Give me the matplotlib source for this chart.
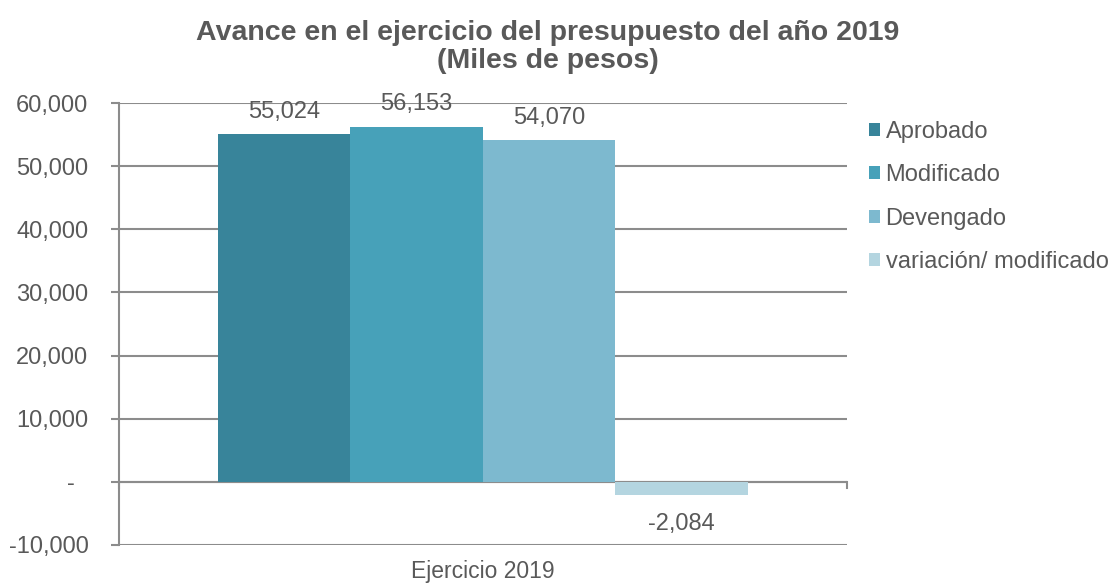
import numpy as np
import matplotlib
matplotlib.use("Agg")
from matplotlib import pyplot as plt
from matplotlib.patches import Patch

plt.rcParams['font.family'] = ['Liberation Sans', 'DejaVu Sans']

# Data ###################################################################
categoria = ["Ejercicio 2019"]
series = ["Aprobado", "Modificado", "Devengado", "variación/ modificado"]
valores = [55024, 56153, 54070, -2084]
colores = ["#38849A", "#47A1B9", "#7DB9CF", "#B4D5E0"]
yticks = [-10000, 0, 10000, 20000, 30000, 40000, 50000, 60000]

gris = "#595959"
linea = "#8C8C8C"

# Figure #################################################################
fig = plt.figure(figsize=(11.09, 5.84), dpi=100)
ax = fig.add_axes([0.1073, 0.0668, 0.6564, 0.7568])

w = 0.182
n = len(valores)
for i, (v, c) in enumerate(zip(valores, colores)):
    xpos = (i - (n - 1) / 2) * w
    ax.bar(xpos, v, width=w, color=c, zorder=3)
    off = 16.5 if v >= 0 else -21
    ax.annotate(f"{v:,}", (xpos, v), xytext=(0, off), textcoords="offset points",
                ha="center", va="center", fontsize=17, color=gris, zorder=4)

ax.set_xlim(-0.5, 0.5)
ax.set_ylim(-10000, 60000)
ax.set_yticks(yticks)
# formato contable: el cero se muestra como "-"
ax.set_yticklabels(["-  " if t == 0 else f"{t:,}" for t in yticks])
ax.set_xticks([0])
ax.set_xticklabels(categoria)
ax.tick_params(axis="y", colors=linea, labelcolor=gris, labelsize=17, length=6, width=1.5, pad=16)
ax.tick_params(axis="x", length=0, labelcolor=gris, labelsize=16.5, pad=11)

ax.grid(axis="y", color=linea, linewidth=1.5, zorder=0)
for s in ["top", "right", "bottom"]:
    ax.spines[s].set_visible(False)
ax.spines["left"].set_color(linea)
ax.spines["left"].set_linewidth(1.5)

# eje del cero con marcas en los extremos
ax.axhline(0, color=linea, linewidth=1.5, zorder=2)
for xe in [-0.5, 0.5]:
    ax.plot([xe, xe], [0, -1000], color=linea, linewidth=1.5, clip_on=False, zorder=2)

fig.text(0.4937, 0.9195, "Avance en el ejercicio del presupuesto del año 2019\n(Miles de pesos)",
         ha="center", va="center", fontsize=20.5, fontweight="bold", color=gris, linespacing=1.12)

handles = [Patch(facecolor=c, edgecolor="none") for c in colores]
leg = fig.legend(handles, series, loc="upper left", bbox_to_anchor=(0.764, 0.829), frameon=False,
                 fontsize=17, handlelength=0.47, handleheight=0.47, handletextpad=0.25,
                 labelspacing=0.9, labelcolor=gris)

fig.savefig("out.png", dpi=100)
